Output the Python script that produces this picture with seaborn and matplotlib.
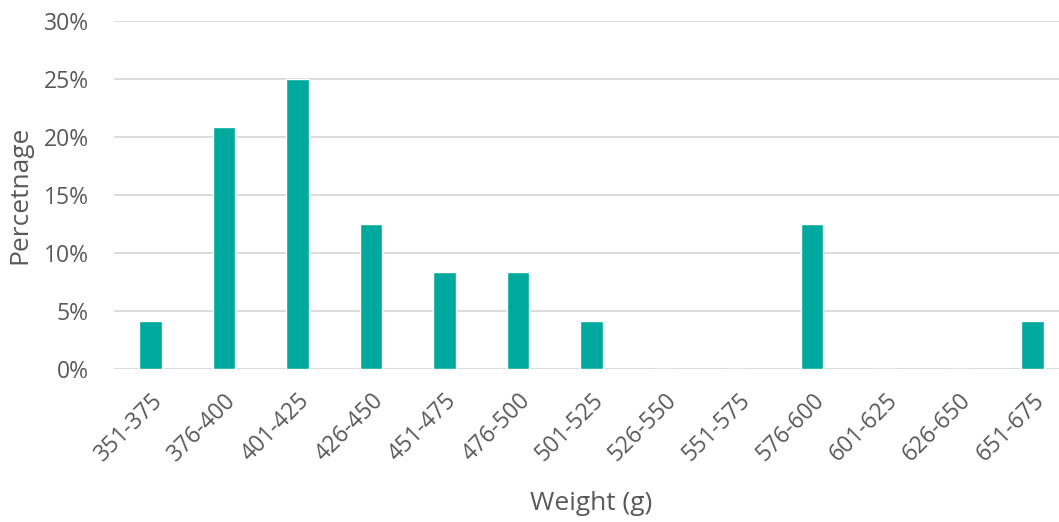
import matplotlib
matplotlib.use("Agg")
import matplotlib.pyplot as plt
import seaborn as sns
import pandas as pd
from matplotlib.ticker import PercentFormatter

weight_bins = ["351-375", "376-400", "401-425", "426-450", "451-475", "476-500",
               "501-525", "526-550", "551-575", "576-600", "601-625", "626-650", "651-675"]
percentage = [4.17, 20.83, 25.0, 12.5, 8.33, 8.33, 4.17, 0, 0, 12.5, 0, 0, 4.17]

df = pd.DataFrame({"Weight": weight_bins, "Percentage": percentage})

sns.set_style("white")
plt.rcParams["font.family"] = ["Open Sans", "DejaVu Sans"]
text_color = "#595959"

fig = plt.figure(figsize=(10.59, 5.22), dpi=100)
# plot area runs a little past the right edge, like the cropped original
ax = fig.add_axes([0.1074, 0.2931, 0.9023, 0.6667])

sns.barplot(data=df, x="Weight", y="Percentage", color="#00A99D",
            width=0.31, saturation=1, ax=ax)

ax.set_ylim(0, 30)
ax.set_yticks([0, 5, 10, 15, 20, 25, 30])
ax.yaxis.set_major_formatter(PercentFormatter(decimals=0))
ax.set_xlim(-0.5, len(weight_bins) - 0.5)
ax.grid(axis="y", color="#D9D9D9", linewidth=1.3)
ax.set_axisbelow(True)
for s in ax.spines.values():
    s.set_visible(False)

ax.tick_params(axis="both", length=0, labelsize=16.5, colors=text_color)
ax.tick_params(axis="y", pad=18)
ax.tick_params(axis="x", pad=14)
plt.setp(ax.get_xticklabels(), rotation=45, ha="right", rotation_mode="anchor")
ax.set_xlabel("Weight (g)", fontsize=19, color=text_color, labelpad=18)
ax.set_ylabel("Percetnage", fontsize=19, color=text_color, labelpad=8)

fig.savefig("out.png", dpi=100)
